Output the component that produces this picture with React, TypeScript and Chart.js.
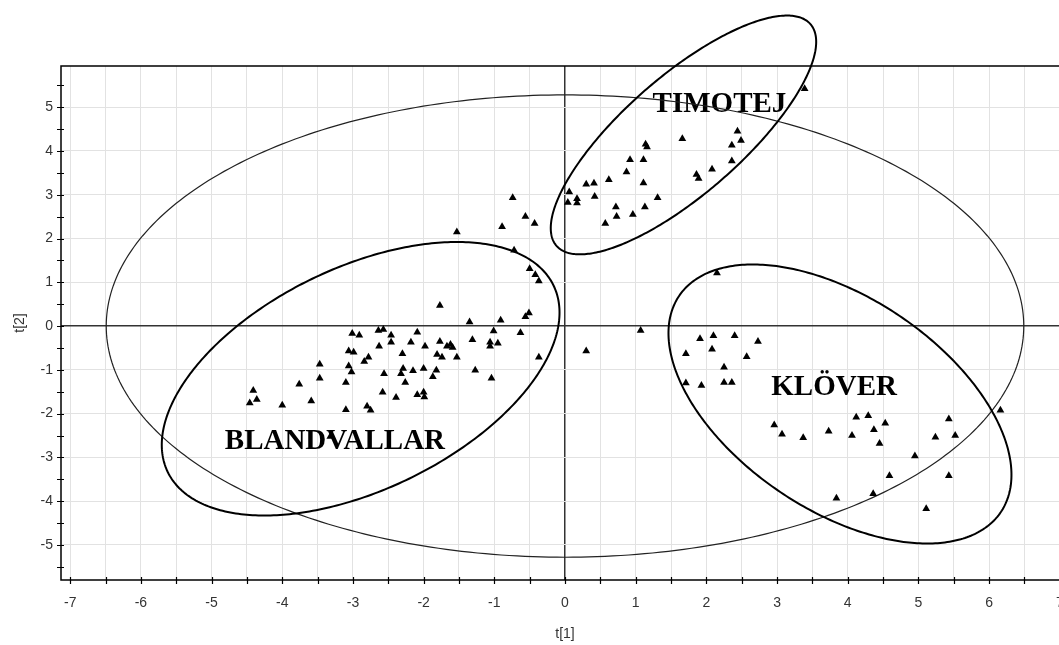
import React, { useEffect, useRef } from 'react';
import { Chart, registerables } from 'chart.js';

Chart.register(...registerables);

// ---- Score values t[1], t[2] per group ----
const blandvallarX = [
  -1.53, -0.74, -0.56, -0.43, -0.89, -0.72, -0.50, -0.42, -0.37, -1.77, -0.51, -0.56, -1.35, -0.91,
  -3.01, -2.91, -2.64, -2.57, -2.46, -2.46, -2.09, -2.18, -2.63, -1.98, -1.77, -1.62, -1.59, -1.67,
  -1.31, -1.01, -1.06, -0.95, -1.06, -0.63, -3.06, -2.99, -2.30, -1.81, -1.74, -1.53, -2.78, -2.84,
  -0.37, 0.30, -3.06, -3.02, -2.56, -2.29, -2.32, -2.15, -2.00, -1.82, -1.87, -1.27, -1.04, -2.26,
  -3.10, -2.58, -2.39, -2.09, -2.00, -1.99, -3.10, -2.80, -2.75, -3.47, -4.41, -4.46, -4.36, -3.76,
  -3.47, -4.00, -3.59, -3.32,
];
const blandvallarY = [
  2.15, 2.93, 2.50, 2.34, 2.27, 1.73, 1.31, 1.17, 1.03, 0.47, 0.30, 0.21, 0.09, 0.13,
  -0.17, -0.21, -0.10, -0.08, -0.21, -0.37, -0.14, -0.37, -0.46, -0.46, -0.35, -0.42, -0.49, -0.46,
  -0.31, -0.11, -0.37, -0.39, -0.46, -0.15, -0.57, -0.60, -0.63, -0.65, -0.71, -0.71, -0.71, -0.81,
  -0.71, -0.57, -0.91, -1.05, -1.09, -0.97, -1.09, -1.02, -0.97, -1.01, -1.16, -1.01, -1.19, -1.29,
  -1.29, -1.51, -1.63, -1.57, -1.51, -1.62, -1.91, -1.83, -1.92, -0.87, -1.47, -1.76, -1.68, -1.33,
  -1.19, -1.81, -1.71, -2.52,
];
const timotejX = [
  1.66, 2.44, 2.49, 2.36, 2.36, 2.08, 1.86, 1.89, 1.14, 1.16, 0.92, 1.11, 0.87, 1.11, 0.62,
  0.30, 0.41, 0.42, 0.06, 0.04, 0.17, 0.17, 1.31, 0.72, 0.73, 1.13, 0.96, 0.57, 3.39,
];
const timotejY = [
  4.28, 4.45, 4.24, 4.13, 3.77, 3.58, 3.46, 3.37, 4.15, 4.09, 3.80, 3.80, 3.52, 3.27, 3.34,
  3.24, 3.26, 2.96, 3.06, 2.82, 2.91, 2.81, 2.93, 2.72, 2.50, 2.72, 2.55, 2.34, 5.42,
];
const kloverX = [
  2.15, 1.07, 1.91, 2.10, 2.40, 2.73, 1.71, 2.08, 2.57, 2.25, 1.71, 1.93, 2.25, 2.36, 2.96, 3.07,
  3.37, 3.73, 4.06, 4.12, 4.29, 4.37, 4.53, 4.45, 4.95, 4.59, 4.36, 3.84, 5.11, 5.43, 5.24, 5.52,
  5.43, 6.16,
];
const kloverY = [
  1.21, -0.10, -0.29, -0.22, -0.22, -0.35, -0.63, -0.53, -0.70, -0.94, -1.30, -1.36, -1.29, -1.29,
  -2.26, -2.47, -2.55, -2.40, -2.50, -2.08, -2.05, -2.37, -2.22, -2.68, -2.97, -3.42, -3.83, -3.93,
  -4.17, -2.12, -2.54, -2.50, -3.42, -1.92,
];

// ---- Axis settings ----
const xMin = -7.13;
const xMax = 7.13;
const yMin = -5.8;
const yMax = 5.94;
const tickStep = 0.5;
const xTitle = 't[1]';
const yTitle = 't[2]';

// ---- Group labels (data units) ----
const groupLabels = ['TIMOTEJ', 'KLÖVER', 'BLANDVALLAR'];
const groupLabelX = [2.185, 3.807, -3.255];
const groupLabelY = [4.9, -1.58, -2.8];

// ---- Group ellipses: centre and two conjugate semi-axis vectors (data units) ----
const groupEllipseCX = [-2.891, 1.676, 3.89];
const groupEllipseCY = [-1.203, 4.365, -1.78];
const groupEllipseUX = [2.729, 1.796, 2.276];
const groupEllipseUY = [2.13, 2.532, -2.468];
const groupEllipseVX = [0.684, 0.547, -0.84];
const groupEllipseVY = [-2.284, -1.013, -2.016];

// ---- Hotelling T2 ellipse (95%) semi-axes ----
const hotellingA = 6.49;
const hotellingB = 5.28;

const isInt = (v: number) => Math.abs(v - Math.round(v)) < 1e-6;
const isZero = (v: number) => Math.abs(v) < 1e-6;

function strokeEllipse(
  ctx: CanvasRenderingContext2D, xs: any, ys: any,
  cx: number, cy: number, ux: number, uy: number, vx: number, vy: number,
) {
  ctx.beginPath();
  for (let i = 0; i <= 360; i++) {
    const a = (i * Math.PI) / 180;
    const dx = cx + ux * Math.cos(a) + vx * Math.sin(a);
    const dy = cy + uy * Math.cos(a) + vy * Math.sin(a);
    const px = xs.getPixelForValue(dx);
    const py = ys.getPixelForValue(dy);
    if (i === 0) ctx.moveTo(px, py);
    else ctx.lineTo(px, py);
  }
  ctx.closePath();
  ctx.stroke();
}

const overlayPlugin = {
  id: 'overlay',
  beforeDatasetsDraw(chart: any) {
    const { ctx, scales } = chart;
    const xs = scales.x;
    const ys = scales.y;
    ctx.save();
    ctx.font = 'bold 29px "Liberation Serif", "Times New Roman", serif';
    ctx.fillStyle = '#000';
    ctx.textAlign = 'center';
    ctx.textBaseline = 'alphabetic';
    groupLabels.forEach((t, i) => {
      ctx.fillText(t, xs.getPixelForValue(groupLabelX[i]), ys.getPixelForValue(groupLabelY[i]));
    });
    ctx.strokeStyle = '#222';
    ctx.lineWidth = 1.2;
    strokeEllipse(ctx, xs, ys, 0, 0, hotellingA, 0, 0, hotellingB);
    ctx.restore();
  },
  afterDraw(chart: any) {
    const { ctx, chartArea, scales } = chart;
    const xs = scales.x;
    const ys = scales.y;
    ctx.save();
    // frame
    ctx.strokeStyle = '#000';
    ctx.lineWidth = 1.5;
    ctx.strokeRect(chartArea.left, chartArea.top, chartArea.right - chartArea.left, chartArea.bottom - chartArea.top);
    // tick marks crossing the axes
    ctx.lineWidth = 1.2;
    ctx.beginPath();
    xs.ticks.forEach((t: any) => {
      const px = Math.round(xs.getPixelForValue(t.value)) + 0.5;
      ctx.moveTo(px, chartArea.bottom - 3);
      ctx.lineTo(px, chartArea.bottom + 4);
    });
    ys.ticks.forEach((t: any) => {
      const py = Math.round(ys.getPixelForValue(t.value)) + 0.5;
      ctx.moveTo(chartArea.left - 4, py);
      ctx.lineTo(chartArea.left + 3, py);
    });
    ctx.stroke();
    // group ellipses
    ctx.lineWidth = 2;
    ctx.strokeStyle = '#000';
    for (let i = 0; i < groupEllipseCX.length; i++) {
      strokeEllipse(ctx, xs, ys, groupEllipseCX[i], groupEllipseCY[i], groupEllipseUX[i], groupEllipseUY[i], groupEllipseVX[i], groupEllipseVY[i]);
    }
    ctx.restore();
  },
};

const whiteBg = {
  id: 'whiteBg',
  beforeDraw(chart: any) {
    const { ctx, width, height } = chart;
    ctx.save();
    ctx.fillStyle = '#fff';
    ctx.fillRect(0, 0, width, height);
    ctx.restore();
  },
};

const toPoints = (xs: number[], ys: number[]) => xs.map((v, i) => ({ x: v, y: ys[i] }));

const tickFont = { family: '"Liberation Sans", Arial, sans-serif', size: 14 };

export default function App() {
  const ref = useRef<HTMLCanvasElement>(null);

  useEffect(() => {
    if (!ref.current) return;
    const pointStyle = {
      pointStyle: 'triangle' as const,
      pointRadius: 4.5,
      pointBackgroundColor: '#000',
      pointBorderColor: '#000',
      pointBorderWidth: 0,
      showLine: false,
    };
    const chart = new Chart(ref.current, {
      type: 'scatter',
      data: {
        datasets: [
          { label: 'BLANDVALLAR', data: toPoints(blandvallarX, blandvallarY), ...pointStyle },
          { label: 'TIMOTEJ', data: toPoints(timotejX, timotejY), ...pointStyle },
          { label: 'KLÖVER', data: toPoints(kloverX, kloverY), ...pointStyle },
        ],
      },
      options: {
        animation: false,
        responsive: false,
        events: [],
        layout: { padding: { top: 66, right: 11, bottom: 0, left: 0 } },
        plugins: { legend: { display: false }, tooltip: { enabled: false } },
        scales: {
          x: {
            type: 'linear',
            position: 'bottom',
            min: xMin,
            max: xMax,
            border: { display: false },
            grid: {
              color: (c: any) => (isZero(c.tick.value) ? '#333' : '#e2e2e2'),
              lineWidth: (c: any) => (isZero(c.tick.value) ? 1.5 : 1),
              tickLength: 7,
              tickColor: 'rgba(0,0,0,0)',
            },
            ticks: {
              stepSize: tickStep,
              includeBounds: false,
              autoSkip: false,
              maxRotation: 0,
              padding: 8,
              color: '#333',
              font: tickFont,
              callback: (v: any) => (isInt(Number(v)) ? String(Math.round(Number(v))) : ''),
            },
            title: { display: true, text: xTitle, color: '#333', font: tickFont, padding: { top: 0, bottom: 2 } },
            afterFit: (s: any) => { s.height = 65; },
          },
          y: {
            type: 'linear',
            min: yMin,
            max: yMax,
            border: { display: false },
            grid: {
              color: (c: any) => (isZero(c.tick.value) ? '#333' : isInt(c.tick.value) ? '#e2e2e2' : 'rgba(0,0,0,0)'),
              lineWidth: (c: any) => (isZero(c.tick.value) ? 1.5 : 1),
              tickLength: 3,
              tickColor: 'rgba(0,0,0,0)',
            },
            ticks: {
              stepSize: tickStep,
              includeBounds: false,
              autoSkip: false,
              padding: 5,
              color: '#333',
              font: tickFont,
              callback: (v: any) => (isInt(Number(v)) ? String(Math.round(Number(v))) : ''),
            },
            title: { display: true, text: yTitle, color: '#333', font: tickFont, padding: { top: 12, bottom: 0 } },
            afterFit: (s: any) => { s.width = 61; },
          },
        },
      },
      plugins: [whiteBg, overlayPlugin],
    });
    return () => chart.destroy();
  }, []);

  return (
    <div style={{ position: 'fixed', left: 0, top: 0, width: 1059, height: 645, overflow: 'hidden', background: '#fff' }}>
      <canvas ref={ref} width={1080} height={645} style={{ display: 'block' }} />
    </div>
  );
}
